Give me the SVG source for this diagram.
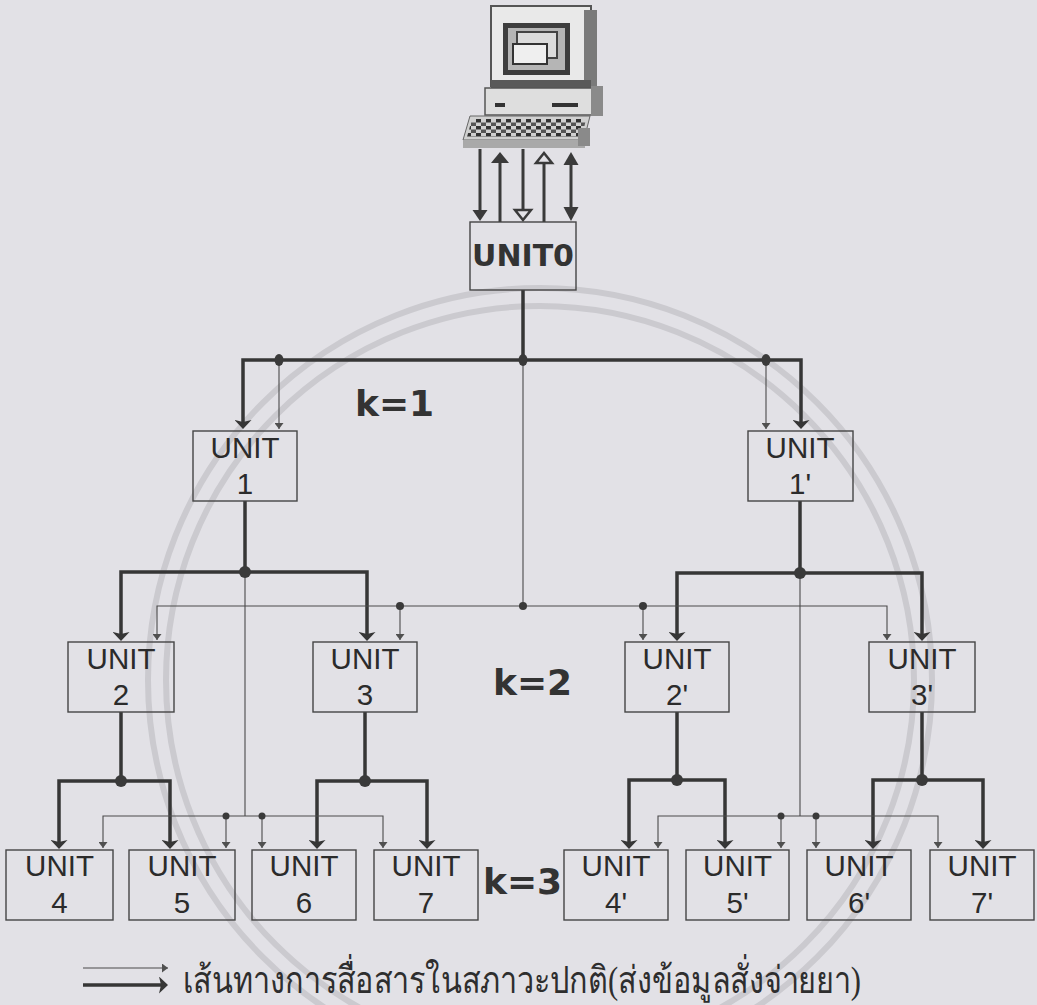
<svg xmlns="http://www.w3.org/2000/svg" width="1037" height="1005" viewBox="0 0 1037 1005">
  <defs>
    <style>
      .thick { fill: none; stroke: #363636; stroke-width: 3.5; }
      .thin { fill: none; stroke: #4a4a4a; stroke-width: 1.1; }
      .box { fill: none; stroke: #454545; stroke-width: 1.4; }
      .lbl { font-family: 'Liberation Sans', Arial, sans-serif; font-size: 29.5px; fill: #2b2b2b; text-anchor: middle; }
      .k { font-family: 'DejaVu Sans', Verdana, sans-serif; font-weight: bold; font-size: 36px; fill: #333; }
      .dot { fill: #3a3a3a; }
      .ring { fill: none; stroke: #cbcacf; stroke-width: 6; }
      .pc-line { fill: none; stroke: #3a3a3a; stroke-width: 3; }
      .head { fill: #3a3a3a; }
      .ohead { fill: #e2e1e6; stroke: #3a3a3a; stroke-width: 2.5; stroke-linejoin: miter; }
    </style>
    <marker id="mThick" viewBox="0 0 9 17" refX="5" refY="8.5" markerWidth="9" markerHeight="17" markerUnits="userSpaceOnUse" orient="auto">
      <path d="M0,0 L9,8.5 L0,17 L2,8.5 z" fill="#363636"/>
    </marker>
    <marker id="mThin" viewBox="0 0 6 9" refX="6" refY="4.5" markerWidth="6" markerHeight="9" markerUnits="userSpaceOnUse" orient="auto">
      <path d="M0,0 L6,4.5 L0,9 z" fill="#505050"/>
    </marker>
    <pattern id="keys" x="466" y="119" width="10" height="7" patternUnits="userSpaceOnUse">
      <rect x="0" y="0" width="5" height="3.5" fill="#333"/>
      <rect x="5" y="3.5" width="5" height="3.5" fill="#555"/>
    </pattern>
  </defs>

  <!-- paper -->
  <rect x="0" y="0" width="1037" height="1005" fill="#e2e1e6"/>

  <!-- faint seal rings in the background -->
  <g id="seal">
    <circle class="ring" cx="540" cy="680" r="392"/>
    <circle class="ring" cx="540" cy="680" r="374"/>
  </g>

  <!-- host computer -->
  <g id="computer">
    <rect x="491" y="6" width="100" height="80" fill="#e9e9e9" stroke="#555" stroke-width="2"/>
    <rect x="584" y="10" width="13" height="78" fill="#7a7a7a"/>
    <rect x="503" y="23" width="67" height="52" fill="#3d3d3d"/>
    <rect x="508" y="28" width="57" height="42" fill="#b5b5b5"/>
    <rect x="517" y="32" width="40" height="26" fill="#dcdcdc" stroke="#444" stroke-width="2"/>
    <rect x="513" y="44" width="34" height="20" fill="#efefef" stroke="#333" stroke-width="2"/>
    <rect x="491" y="80" width="100" height="8" fill="#5a5a5a"/>
    <rect x="485" y="88" width="112" height="27" fill="#dedede" stroke="#555" stroke-width="1.5"/>
    <rect x="591" y="86" width="12" height="30" fill="#8a8a8a"/>
    <rect x="495" y="103" width="10" height="4" fill="#333"/>
    <rect x="552" y="103" width="26" height="4" fill="#333"/>
    <polygon points="470,116 590,116 584,140 463,140" fill="#d0d0d0" stroke="#666" stroke-width="1"/>
    <polygon points="472,119 586,119 582,137 467,137" fill="url(#keys)"/>
    <rect x="463" y="140" width="122" height="8" fill="#a9a9a9"/>
    <rect x="578" y="128" width="12" height="18" fill="#8a8a8a"/>
  </g>

  <!-- links between computer and UNIT0 -->
  <g id="host-links">
    <line class="pc-line" x1="480" y1="149" x2="480" y2="212"/>
    <polygon class="head" points="472.5,210 487.5,210 480,221"/>
    <line class="pc-line" x1="500" y1="222" x2="500" y2="160"/>
    <polygon class="head" points="491,163 509,163 500,152"/>
    <line class="pc-line" x1="523" y1="149" x2="523" y2="210"/>
    <polygon class="ohead" points="515,210 531,210 523,220"/>
    <line class="pc-line" x1="544" y1="222" x2="544" y2="163"/>
    <polygon class="ohead" points="536,163 552,163 544,153"/>
    <line class="pc-line" x1="571" y1="160" x2="571" y2="212"/>
    <polygon class="head" points="563.5,165 578.5,165 571,152"/>
    <polygon class="head" points="563.5,207 578.5,207 571,221"/>
  </g>

  <!-- connectors -->
  <g id="connectors">
    <!-- thick: normal-state routes -->
    <path class="thick" d="M523,290 V360"/>
    <path class="thick" d="M523,360 H243 V425" marker-end="url(#mThick)"/>
    <path class="thick" d="M523,360 H801 V425" marker-end="url(#mThick)"/>
    <path class="thick" d="M245,501 V572"/>
    <path class="thick" d="M245,572 H121 V637" marker-end="url(#mThick)"/>
    <path class="thick" d="M245,572 H367 V637" marker-end="url(#mThick)"/>
    <path class="thick" d="M800,501 V573"/>
    <path class="thick" d="M800,573 H677 V637" marker-end="url(#mThick)"/>
    <path class="thick" d="M800,573 H922 V637" marker-end="url(#mThick)"/>
    <path class="thick" d="M121,712 V781"/>
    <path class="thick" d="M121,781 H59 V845" marker-end="url(#mThick)"/>
    <path class="thick" d="M121,781 H170 V845" marker-end="url(#mThick)"/>
    <path class="thick" d="M365,712 V781"/>
    <path class="thick" d="M365,781 H317 V845" marker-end="url(#mThick)"/>
    <path class="thick" d="M365,781 H427 V845" marker-end="url(#mThick)"/>
    <path class="thick" d="M677,712 V780"/>
    <path class="thick" d="M677,780 H629 V845" marker-end="url(#mThick)"/>
    <path class="thick" d="M677,780 H725 V845" marker-end="url(#mThick)"/>
    <path class="thick" d="M922,712 V780"/>
    <path class="thick" d="M922,780 H873 V845" marker-end="url(#mThick)"/>
    <path class="thick" d="M922,780 H983 V845" marker-end="url(#mThick)"/>

    <!-- thin: backup routes -->
    <path class="thin" d="M523,360 V606"/>
    <path class="thin" d="M279,360 V429" marker-end="url(#mThin)"/>
    <path class="thin" d="M766,360 V429" marker-end="url(#mThin)"/>
    <path class="thin" d="M523,606 H157 V640" marker-end="url(#mThin)"/>
    <path class="thin" d="M400,606 V640" marker-end="url(#mThin)"/>
    <path class="thin" d="M523,606 H887 V640" marker-end="url(#mThin)"/>
    <path class="thin" d="M643,606 V640" marker-end="url(#mThin)"/>
    <path class="thin" d="M245,572 V816"/>
    <path class="thin" d="M800,573 V816"/>
    <path class="thin" d="M245,816 H103 V848" marker-end="url(#mThin)"/>
    <path class="thin" d="M226,816 V848" marker-end="url(#mThin)"/>
    <path class="thin" d="M245,816 H383 V848" marker-end="url(#mThin)"/>
    <path class="thin" d="M262,816 V848" marker-end="url(#mThin)"/>
    <path class="thin" d="M800,816 H658 V848" marker-end="url(#mThin)"/>
    <path class="thin" d="M781,816 V848" marker-end="url(#mThin)"/>
    <path class="thin" d="M800,816 H938 V848" marker-end="url(#mThin)"/>
    <path class="thin" d="M816,816 V848" marker-end="url(#mThin)"/>

    <!-- junctions -->
    <ellipse class="dot" cx="279" cy="360" rx="4.5" ry="6"/>
    <ellipse class="dot" cx="523" cy="360" rx="4.5" ry="6"/>
    <ellipse class="dot" cx="766" cy="360" rx="4.5" ry="6"/>
    <circle class="dot" cx="245" cy="572" r="6"/>
    <circle class="dot" cx="800" cy="573" r="6"/>
    <circle class="dot" cx="121" cy="781" r="6"/>
    <circle class="dot" cx="365" cy="781" r="6"/>
    <circle class="dot" cx="677" cy="780" r="6"/>
    <circle class="dot" cx="922" cy="780" r="6"/>
    <circle class="dot" cx="400" cy="606" r="4"/>
    <circle class="dot" cx="523" cy="606" r="4"/>
    <circle class="dot" cx="643" cy="606" r="4"/>
    <circle class="dot" cx="226" cy="816" r="3.5"/>
    <circle class="dot" cx="262" cy="816" r="3.5"/>
    <circle class="dot" cx="781" cy="816" r="3.5"/>
    <circle class="dot" cx="816" cy="816" r="3.5"/>
  </g>

  <!-- units -->
  <g id="unit0">
    <rect class="box" x="470" y="222" width="106" height="68"/>
    <text x="523" y="266" font-family="'DejaVu Sans', Verdana, sans-serif" font-weight="bold" font-size="30" fill="#333" text-anchor="middle">UNIT0</text>
  </g>
  <g id="unit1">
    <rect class="box" x="193" y="431" width="104" height="70"/>
    <text class="lbl" x="245" y="458">UNIT</text><text class="lbl" x="245" y="494">1</text>
  </g>
  <g id="unit1p">
    <rect class="box" x="748" y="431" width="105" height="70"/>
    <text class="lbl" x="800" y="458">UNIT</text><text class="lbl" x="800" y="494">1'</text>
  </g>
  <g id="unit2">
    <rect class="box" x="68" y="642" width="106" height="70"/>
    <text class="lbl" x="121" y="669">UNIT</text><text class="lbl" x="121" y="705">2</text>
  </g>
  <g id="unit3">
    <rect class="box" x="313" y="642" width="104" height="70"/>
    <text class="lbl" x="365" y="669">UNIT</text><text class="lbl" x="365" y="705">3</text>
  </g>
  <g id="unit2p">
    <rect class="box" x="625" y="642" width="104" height="70"/>
    <text class="lbl" x="677" y="669">UNIT</text><text class="lbl" x="677" y="705">2'</text>
  </g>
  <g id="unit3p">
    <rect class="box" x="869" y="642" width="106" height="70"/>
    <text class="lbl" x="922" y="669">UNIT</text><text class="lbl" x="922" y="705">3'</text>
  </g>
  <g id="unit4">
    <rect class="box" x="6" y="850" width="107" height="70"/>
    <text class="lbl" x="59.5" y="876">UNIT</text><text class="lbl" x="59.5" y="913">4</text>
  </g>
  <g id="unit5">
    <rect class="box" x="129" y="850" width="106" height="70"/>
    <text class="lbl" x="182" y="876">UNIT</text><text class="lbl" x="182" y="913">5</text>
  </g>
  <g id="unit6">
    <rect class="box" x="252" y="850" width="104" height="70"/>
    <text class="lbl" x="304" y="876">UNIT</text><text class="lbl" x="304" y="913">6</text>
  </g>
  <g id="unit7">
    <rect class="box" x="374" y="850" width="104" height="70"/>
    <text class="lbl" x="426" y="876">UNIT</text><text class="lbl" x="426" y="913">7</text>
  </g>
  <g id="unit4p">
    <rect class="box" x="564" y="850" width="104" height="70"/>
    <text class="lbl" x="616" y="876">UNIT</text><text class="lbl" x="616" y="913">4'</text>
  </g>
  <g id="unit5p">
    <rect class="box" x="686" y="850" width="103" height="70"/>
    <text class="lbl" x="737.5" y="876">UNIT</text><text class="lbl" x="737.5" y="913">5'</text>
  </g>
  <g id="unit6p">
    <rect class="box" x="807" y="850" width="104" height="70"/>
    <text class="lbl" x="859" y="876">UNIT</text><text class="lbl" x="859" y="913">6'</text>
  </g>
  <g id="unit7p">
    <rect class="box" x="930" y="850" width="104" height="70"/>
    <text class="lbl" x="982" y="876">UNIT</text><text class="lbl" x="982" y="913">7'</text>
  </g>

  <!-- level labels -->
  <g id="levels">
    <text class="k" x="355" y="416">k=1</text>
    <text class="k" x="493" y="695">k=2</text>
    <text class="k" x="483" y="894">k=3</text>
  </g>

  <!-- legend -->
  <g id="legend">
    <path class="thin" d="M83,968 H168" marker-end="url(#mThin)"/>
    <path class="thick" d="M83,985 H164" marker-end="url(#mThick)"/>
    <text x="183" y="993" font-family="'Liberation Serif', 'Noto Sans', serif" font-size="38" fill="#2e2e2e" textLength="678" lengthAdjust="spacingAndGlyphs">เส้นทางการสื่อสารในสภาวะปกติ(ส่งข้อมูลสั่งจ่ายยา)</text>
  </g>
</svg>
